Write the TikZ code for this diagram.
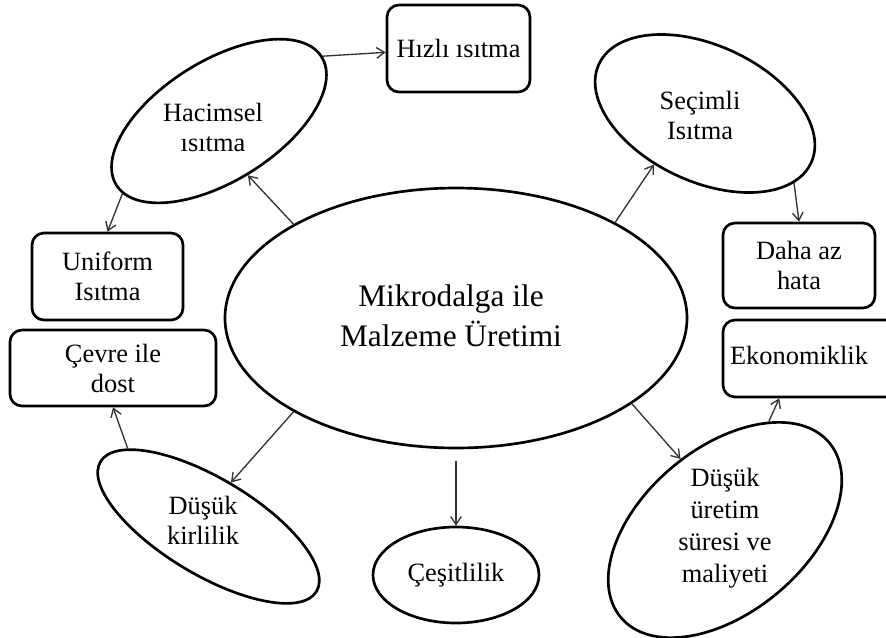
\documentclass[tikz,border=0pt]{standalone}
\usepackage{fontspec}
\setmainfont{Liberation Serif}
\usetikzlibrary{shapes.geometric,arrows.meta}

\begin{document}
\begin{tikzpicture}[x=0.75pt,y=-0.75pt,
  oval/.style={ellipse,draw,line width=2pt,inner sep=0pt},
  kutu/.style={draw,rounded corners=9pt,line width=2pt,inner sep=0pt,align=center,font=\fontsize{19.8}{22.5}\selectfont},
  yazi/.style={align=center,font=\fontsize{19.8}{22.5}\selectfont},
  ok/.style={-{Straight Barb[length=6pt,width=8pt]},line width=1pt,draw=black!80}]
\useasboundingbox (0,0) rectangle (886,637);

% orta
\node[oval,minimum width=346.5pt,minimum height=195pt] (ana) at (456,318) {};
\node[align=center,font=\fontsize{23.5}{30}\selectfont] (anayazi) at (451,316) {Mikrodalga ile\\Malzeme Üretimi};

% elipsler
\node[oval,rotate=32,minimum width=181.5pt,minimum height=90pt] (hac) at (219,121) {};
\node[yazi] (hacyazi) at (213,127) {Hacimsel\\ısıtma};
\node[oval,rotate=-25,minimum width=175.5pt,minimum height=102pt] (sec) at (705,113.5) {};
\node[yazi] (secyazi) at (700,115) {Seçimli\\Isıtma};
\node[oval,rotate=-31,minimum width=189pt,minimum height=72pt] (kir) at (208.5,526.5) {};
\node[yazi] (kiryazi) at (203,520) {Düşük\\kirlilik};
\node[oval,rotate=40,minimum width=204pt,minimum height=123pt] (dus) at (725,530) {};
\node[yazi,font=\fontsize{19.8}{24}\selectfont] (dusyazi) at (725,528) {Düşük\\üretim\\süresi ve\\maliyeti};
\node[oval,minimum width=124.5pt,minimum height=72pt,font=\fontsize{19.8}{22.5}\selectfont] (ces) at (456,575) {Çeşitlilik};

% kutular
\node[kutu,minimum width=107.25pt,minimum height=65.25pt] (hizli) at (458.5,48.5) {Hızlı ısıtma};
\node[kutu,minimum width=113.25pt,minimum height=65.25pt] (uni) at (107.5,276.5) {Uniform\\Isıtma};
\node[kutu,minimum width=154.5pt,minimum height=57pt] (cevre) at (113,368) {Çevre ile\\dost};
\node[kutu,minimum width=114pt,minimum height=63.75pt] (daha) at (799,265.5) {Daha az\\hata};
\node[kutu,minimum width=132.75pt,minimum height=57.75pt] (ekon) at (811.5,358.5) {};
\node[yazi] (ekonyazi) at (799,355) {Ekonomiklik};

% oklar
\draw[ok] (ana.150) -- (hac.-94);
\draw[ok] (hac.0) -- (hizli.183);
\draw[ok] (hac.185) -- (uni.north);
\draw[ok] (ana.31) -- (sec.-110);
\draw[ok] (sec.-13) -- (daha.north);
\draw[ok] (ana.-26) -- (dus.82);
\draw[ok] (dus.28) -- (ekon.231);
\draw[ok,shorten <=9pt] (ces.north |- ana.south) -- (ces.north);
\draw[ok] (ana.210) -- (kir.94);
\draw[ok] (kir.167) -- (cevre.south);

\end{tikzpicture}
\end{document}
